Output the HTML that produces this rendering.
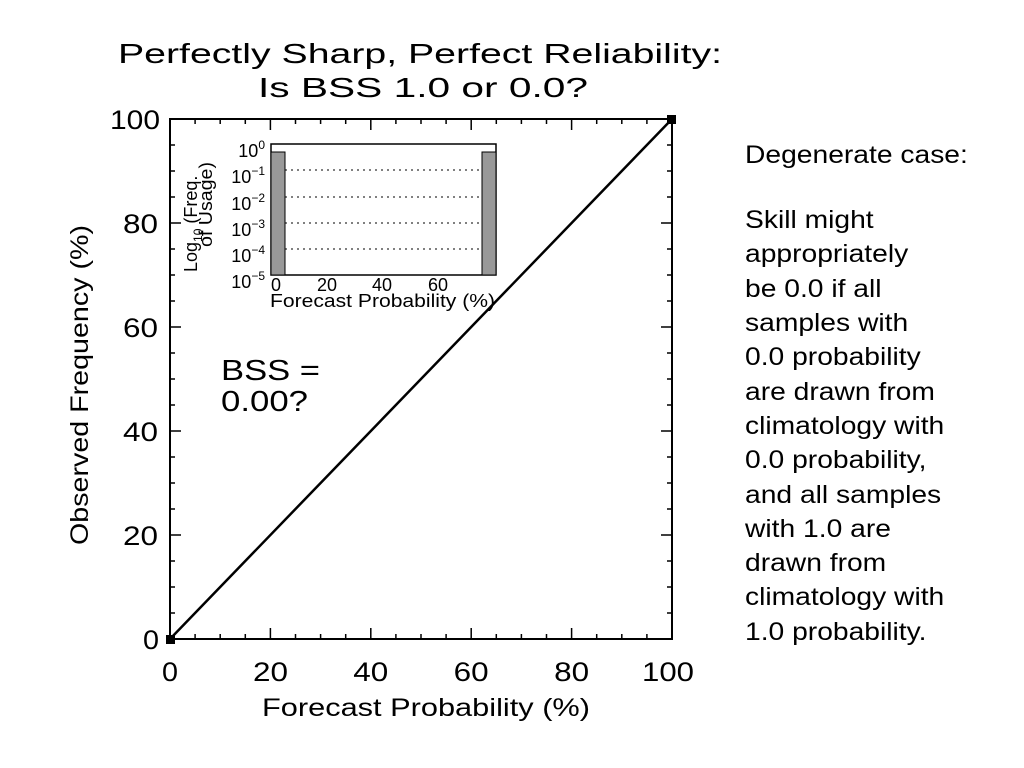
<!DOCTYPE html>
<html><head><meta charset="utf-8"><style>
body{margin:0;background:#fff;}
svg{display:block;font-family:"Liberation Sans",sans-serif;}
</style></head><body>
<svg width="1024" height="768" viewBox="0 0 1024 768">
<rect width="1024" height="768" fill="#fff"/>
<g font-size="28" fill="#000">
<text x="118" y="63" textLength="604" lengthAdjust="spacingAndGlyphs">Perfectly Sharp, Perfect Reliability:</text>
<text x="258" y="97" textLength="330" lengthAdjust="spacingAndGlyphs">Is BSS 1.0 or 0.0?</text>
</g>
<rect x="170" y="119" width="502" height="520" fill="none" stroke="#000" stroke-width="2"/>
<g stroke="#000" stroke-width="1.5">
<path d="
M170,639v-11 M195.1,639v-5 M220.2,639v-5 M245.3,639v-5 M270.4,639v-11 M295.5,639v-5 M320.6,639v-5 M345.7,639v-5 M370.8,639v-11 M395.9,639v-5 M421,639v-5 M446.1,639v-5 M471.2,639v-11 M496.3,639v-5 M521.4,639v-5 M546.5,639v-5 M571.6,639v-11 M596.7,639v-5 M621.8,639v-5 M646.9,639v-5
M170,119v11 M195.1,119v5 M220.2,119v5 M245.3,119v5 M270.4,119v11 M295.5,119v5 M320.6,119v5 M345.7,119v5 M370.8,119v11 M395.9,119v5 M421,119v5 M446.1,119v5 M471.2,119v11 M496.3,119v5 M521.4,119v5 M546.5,119v5 M571.6,119v11 M596.7,119v5 M621.8,119v5 M646.9,119v5
M170,613h5 M170,587h5 M170,561h5 M170,535h11 M170,509h5 M170,483h5 M170,457h5 M170,431h11 M170,405h5 M170,379h5 M170,353h5 M170,327h11 M170,301h5 M170,275h5 M170,249h5 M170,223h11 M170,197h5 M170,171h5 M170,145h5
M672,613h-5 M672,587h-5 M672,561h-5 M672,535h-11 M672,509h-5 M672,483h-5 M672,457h-5 M672,431h-11 M672,405h-5 M672,379h-5 M672,353h-5 M672,327h-11 M672,301h-5 M672,275h-5 M672,249h-5 M672,223h-11 M672,197h-5 M672,171h-5 M672,145h-5"/>
</g>
<line x1="170" y1="639" x2="672" y2="119" stroke="#000" stroke-width="2.5"/>
<rect x="166" y="635" width="9" height="9" fill="#000"/>
<rect x="667" y="115" width="9" height="9" fill="#000"/>
<g font-size="27" fill="#000">
<text x="143" y="649" textLength="16" lengthAdjust="spacingAndGlyphs">0</text>
<text x="123" y="545" textLength="35" lengthAdjust="spacingAndGlyphs">20</text>
<text x="123" y="441" textLength="35" lengthAdjust="spacingAndGlyphs">40</text>
<text x="123" y="337" textLength="35" lengthAdjust="spacingAndGlyphs">60</text>
<text x="123" y="233" textLength="35" lengthAdjust="spacingAndGlyphs">80</text>
<text x="110" y="129" textLength="50" lengthAdjust="spacingAndGlyphs">100</text>
<text x="162" y="681" textLength="16" lengthAdjust="spacingAndGlyphs">0</text>
<text x="253" y="681" textLength="35" lengthAdjust="spacingAndGlyphs">20</text>
<text x="353.3" y="681" textLength="35" lengthAdjust="spacingAndGlyphs">40</text>
<text x="453.7" y="681" textLength="35" lengthAdjust="spacingAndGlyphs">60</text>
<text x="554.1" y="681" textLength="35" lengthAdjust="spacingAndGlyphs">80</text>
<text x="642" y="681" textLength="52" lengthAdjust="spacingAndGlyphs">100</text>
</g>
<text x="262" y="716" font-size="25" textLength="328" lengthAdjust="spacingAndGlyphs">Forecast Probability (%)</text>
<text transform="translate(88,545) rotate(-90)" font-size="25" textLength="320" lengthAdjust="spacingAndGlyphs">Observed Frequency (%)</text>
<g font-size="29">
<text x="221" y="380" textLength="99" lengthAdjust="spacingAndGlyphs">BSS =</text>
<text x="221" y="411" textLength="87" lengthAdjust="spacingAndGlyphs">0.00?</text>
</g>
<rect x="271" y="144" width="225" height="131" fill="#fff" stroke="#000" stroke-width="1.5"/>
<g stroke="#000" stroke-width="1" stroke-dasharray="2,4">
<line x1="285" y1="170" x2="482" y2="170"/><line x1="285" y1="197" x2="482" y2="197"/>
<line x1="285" y1="223" x2="482" y2="223"/><line x1="285" y1="249" x2="482" y2="249"/>
</g>
<rect x="271" y="152" width="14" height="123" fill="#999" stroke="#000" stroke-width="1"/>
<rect x="482" y="152" width="14" height="123" fill="#999" stroke="#000" stroke-width="1"/>
<g font-size="18" text-anchor="end">
<text x="265" y="157">10<tspan dy="-8" font-size="12">0</tspan></text>
<text x="265" y="183">10<tspan dy="-8" font-size="12">−1</tspan></text>
<text x="265" y="210">10<tspan dy="-8" font-size="12">−2</tspan></text>
<text x="265" y="236">10<tspan dy="-8" font-size="12">−3</tspan></text>
<text x="265" y="262">10<tspan dy="-8" font-size="12">−4</tspan></text>
<text x="265" y="288">10<tspan dy="-8" font-size="12">−5</tspan></text>
</g>
<g font-size="18" text-anchor="middle">
<text x="276" y="291">0</text><text x="327" y="291">20</text><text x="382" y="291">40</text><text x="438" y="291">60</text>
</g>
<text x="270" y="307" font-size="18" textLength="225" lengthAdjust="spacingAndGlyphs">Forecast Probability (%)</text>
<g font-size="18">
<text transform="translate(197,272) rotate(-90)">Log<tspan font-size="12" dy="5">10</tspan><tspan dy="-5"> (Freq.</tspan></text>
<text transform="translate(212,247) rotate(-90)" textLength="85" lengthAdjust="spacingAndGlyphs">of Usage)</text>
</g>
<g font-size="25" fill="#000" transform="translate(745,0) scale(1.13,1)">
<text x="0" y="163">Degenerate case:</text>
<text x="0" y="228">Skill might</text>
<text x="0" y="262">appropriately</text>
<text x="0" y="297">be 0.0 if all</text>
<text x="0" y="331">samples with</text>
<text x="0" y="365">0.0 probability</text>
<text x="0" y="400">are drawn from</text>
<text x="0" y="434">climatology with</text>
<text x="0" y="468">0.0 probability,</text>
<text x="0" y="503">and all samples</text>
<text x="0" y="537">with 1.0 are</text>
<text x="0" y="571">drawn from</text>
<text x="0" y="605">climatology with</text>
<text x="0" y="640">1.0 probability.</text>
</g>
</svg>
</body></html>
